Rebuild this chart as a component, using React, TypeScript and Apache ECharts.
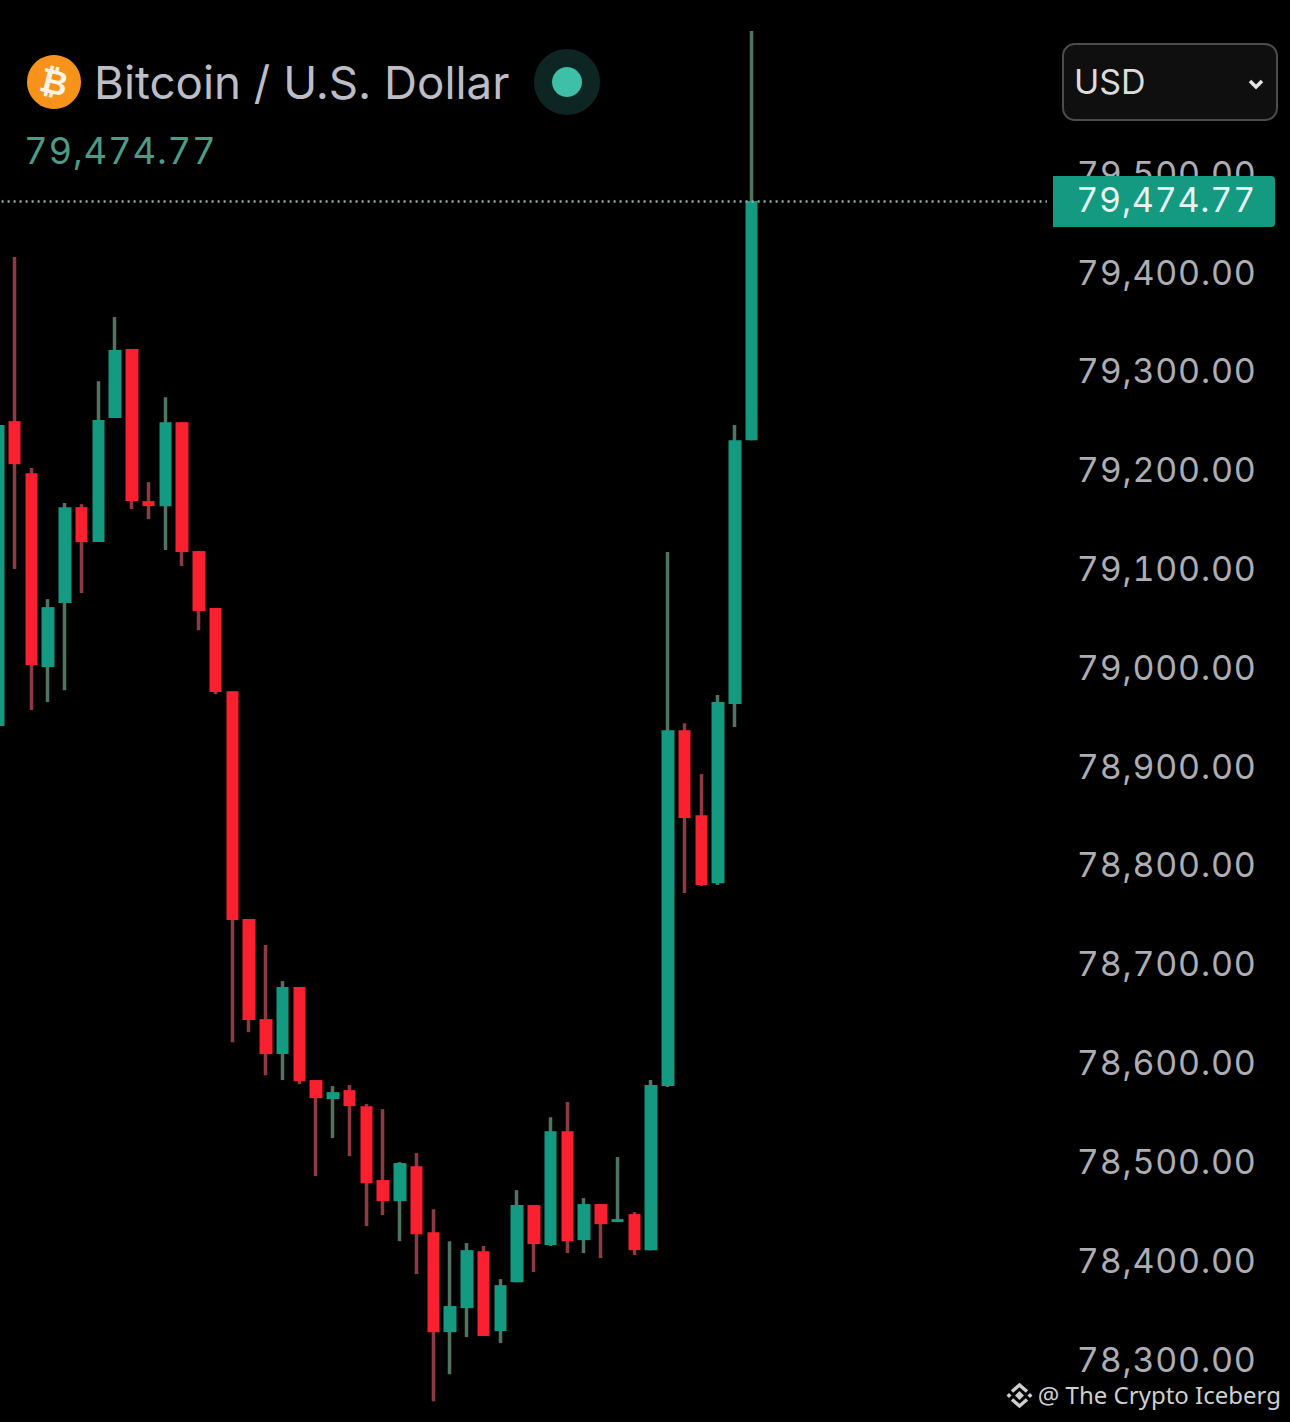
import React, { useEffect, useRef } from "react";
import * as echarts from "echarts";

const slots = Array.from({ length: 64 }, (_, i) => String(i));
const opens = [78943.5,79252.1,79199.5,79003.2,79068.0,79165.1,79129.7,79255.2,79325.0,79171.2,79166.1,79251.1,79120.6,79062.9,78978.9,78748.2,78647.0,78611.6,78679.4,78585.3,78566.0,78575.1,78558.9,78484.1,78462.8,78498.2,78431.4,78330.2,78354.5,78412.2,78331.3,78380.8,78458.8,78418.3,78533.6,78423.3,78459.8,78441.6,78449.7,78413.2,78579.2,78939.4,78853.4,78784.6,78965.8,79232.9];
const closes = [79248.1,79208.6,79005.2,79063.9,79165.1,79129.7,79253.2,79324.0,79171.2,79166.1,79251.1,79119.6,79059.9,78977.9,78747.2,78646.0,78611.6,78679.4,78584.2,78567.0,78573.1,78558.9,78481.0,78462.8,78501.3,78429.4,78330.2,78356.6,78413.2,78326.2,78377.8,78458.8,78419.3,78533.6,78422.3,78459.8,78439.5,78444.6,78413.2,78580.2,78939.4,78850.4,78782.6,78967.8,79232.9,79474.77];
const lows = [78943.5,79102.4,78959.7,78967.8,78979.9,79078.1,79129.7,79255.2,79163.1,79153.0,79121.6,79105.4,79040.6,78975.9,78623.7,78633.8,78590.3,78585.3,78581.2,78488.1,78526.6,78508.3,78437.5,78448.6,78422.3,78388.9,78260.4,78287.7,78325.2,78326.2,78319.1,78380.8,78391.0,78417.3,78410.2,78410.2,78405.1,78441.6,78408.2,78413.2,78578.2,78774.5,78781.6,78782.6,78942.5,79232.9];
const highs = [79248.1,79418.1,79204.6,79072.0,79169.2,79168.1,79292.6,79357.4,79325.0,79190.4,79276.4,79251.1,79120.6,79062.9,78978.9,78748.2,78721.9,78685.4,78679.4,78585.3,78579.2,78580.2,78561.0,78555.9,78502.3,78511.4,78454.7,78422.3,78420.3,78417.3,78383.9,78473.9,78458.8,78547.8,78563.0,78465.8,78459.8,78507.3,78451.7,78585.3,79119.6,78946.5,78894.9,78974.9,79248.1,79646.8];
const tickLabels = [78300,78400,78500,78600,78700,78800,78900,79000,79100,79200,79300,79400,79500];
const lastPrice = 79474.77;
const lastPriceText = "79,474.77";
const titleText = "Bitcoin / U.S. Dollar";
const currency = "USD";
const watermark = "@ The Crypto Iceberg";

const UI = "Inter, 'Noto Sans', sans-serif";
const GREEN = "#149a80";
const RED = "#f9202f";

export default function App() {
  const ref = useRef<HTMLDivElement>(null);
  useEffect(() => {
    const chart = echarts.init(ref.current!, undefined, { renderer: "svg" });
    const wickData = opens.map((o, i) => [o, closes[i], lows[i], highs[i]]);
    const bodyData = opens.map((o, i) => [o, closes[i], Math.min(o, closes[i]), Math.max(o, closes[i])]);
    const text = (t: string, x: number, y: number, size: number, fill: string, extra: any = {}) => ({
      type: "text", z: 100,
      style: { text: t, x, y, fontSize: size, fontFamily: UI, fill, textAlign: "left", textVerticalAlign: "middle", ...extra },
    });
    chart.setOption({
      animation: false,
      backgroundColor: "#000000",
      grid: { left: -10.4, top: -21.45, width: 1072, height: 1482.27, containLabel: false, outerBoundsMode: "none" },
      xAxis: { type: "category", data: slots, show: false, boundaryGap: true },
      yAxis: {
        type: "value", position: "right", min: 78200, max: 79700, interval: 100,
        splitLine: { show: false }, axisLine: { show: false }, axisTick: { show: false },
        axisLabel: {
          color: "#adadb3", fontSize: 34, fontFamily: UI, align: "right", margin: 195, verticalAlign: "bottom", lineHeight: 6,
          formatter: (v: number) => tickLabels.includes(v)
            ? v.toLocaleString("en-US", { minimumFractionDigits: 2, maximumFractionDigits: 2 }) : "",
        },
      },
      series: [
        {
          type: "candlestick", data: wickData, barWidth: 1,
          itemStyle: { color: "#4f7562", color0: "#8f3a42", borderColor: "#4f7562", borderColor0: "#8f3a42", borderWidth: 3.5 },
          markLine: {
            silent: true, symbol: "none", label: { show: false },
            lineStyle: { color: "#8fb0aa", type: [2, 4], width: 2.5 },
            data: [{ yAxis: lastPrice }],
          },
        },
        {
          type: "candlestick", data: bodyData, barWidth: 13,
          itemStyle: { color: GREEN, color0: RED, borderColor: GREEN, borderColor0: RED, borderWidth: 0 },
        },
      ],
      graphic: {
        elements: [
          { type: "rect", z: 99, shape: { x: 1047, y: 196, width: 6, height: 10 }, style: { fill: "#000000" } },
          { type: "circle", z: 100, shape: { cx: 54, cy: 82, r: 27 }, style: { fill: "#f7931a" } },
          {
            type: "text", z: 101, x: 54, y: 82, rotation: -0.24,
            style: { text: "₿", x: 0, y: 0, fontSize: 34, fontWeight: "bold", fontFamily: "'DejaVu Sans', sans-serif", fill: "#fff4e6", textAlign: "center", textVerticalAlign: "middle" },
          },
          text(titleText, 94, 82, 45.7, "#bdbdc7"),
          { type: "circle", z: 100, shape: { cx: 567, cy: 82, r: 33 }, style: { fill: "#0d2624" } },
          { type: "circle", z: 101, shape: { cx: 567, cy: 82, r: 15 }, style: { fill: "#3dbfa8" } },
          text(lastPriceText, 24, 151, 36.5, "#4d9a86"),
          { type: "rect", z: 100, shape: { x: 1063, y: 44, width: 214, height: 76, r: 12 }, style: { fill: "#0f0f0f", stroke: "#4c4c4c", lineWidth: 2 } },
          text(currency, 1074, 81, 34, "#dcdcdc"),
          { type: "polyline", z: 101, shape: { points: [[1250, 81], [1256, 87], [1262, 81]] }, style: { stroke: "#e6e6e6", lineWidth: 3.5, fill: "none" } },
          { type: "rect", z: 100, shape: { x: 1053, y: 176, width: 222, height: 51, r: [0, 4, 4, 0] }, style: { fill: GREEN } },
          text(lastPriceText, 1256, 199, 34, "#e9f6f3", { textAlign: "right" }),
          { type: "polyline", z: 100, shape: { points: [[1012, 1391.5], [1019.5, 1385], [1027, 1391.5]] }, style: { stroke: "#cfcfcf", lineWidth: 3.5, fill: "none" } },
          { type: "polyline", z: 100, shape: { points: [[1012, 1399.5], [1019.5, 1406], [1027, 1399.5]] }, style: { stroke: "#cfcfcf", lineWidth: 3.5, fill: "none" } },
          { type: "polygon", z: 100, shape: { points: [[1019.5, 1391], [1024, 1395.5], [1019.5, 1400], [1015, 1395.5]] }, style: { fill: "#cfcfcf" } },
          { type: "polygon", z: 100, shape: { points: [[1009, 1393], [1011.5, 1395.5], [1009, 1398], [1006.5, 1395.5]] }, style: { fill: "#cfcfcf" } },
          { type: "polygon", z: 100, shape: { points: [[1030, 1393], [1032.5, 1395.5], [1030, 1398], [1027.5, 1395.5]] }, style: { fill: "#cfcfcf" } },
          { type: "text", z: 100, style: { text: watermark, x: 1281, y: 1394, fontSize: 24, fontFamily: "'Noto Sans', sans-serif", fill: "#cfcfcf", textAlign: "right", textVerticalAlign: "middle" } },
        ],
      },
    });
    ref.current!.querySelectorAll("text").forEach((t) => {
      if (/^\d\d,\d{3}\.\d\d$/.test(t.textContent || "")) {
        const s = (t as SVGTextElement).style;
        s.letterSpacing = "0.8px";
        s.fontVariantNumeric = "tabular-nums";
      }
    });
    return () => chart.dispose();
  }, []);
  return <div ref={ref} style={{ position: "absolute", left: 0, top: 0, width: 1290, height: 1422 }} />;
}
